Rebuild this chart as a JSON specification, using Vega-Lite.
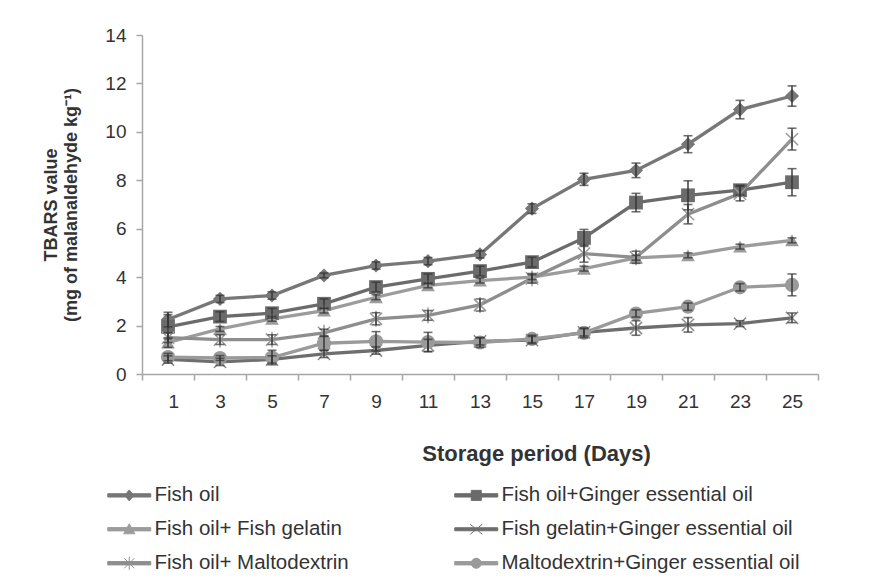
{
  "$schema": "https://vega.github.io/schema/vega-lite/v6.json",
  "width": 676,
  "height": 339,
  "autosize": "none",
  "padding": {"left": 142, "top": 35, "right": 76, "bottom": 212},
  "background": "white",
  "config": {
    "view": {"stroke": null},
    "font": "Liberation Sans",
    "axis": {
      "grid": false,
      "domainColor": "#a6a6a6",
      "tickColor": "#a6a6a6",
      "domainWidth": 1.5,
      "tickWidth": 1.5,
      "labelColor": "#333333",
      "titleColor": "#333333",
      "labelFont": "Liberation Sans",
      "titleFont": "Liberation Sans",
      "labelFontSize": 19,
      "titleFontWeight": "bold"
    },
    "legend": {"padding": 0}
  },
  "data": {
    "values": [
      {"series": "Fish oil", "day": 1, "value": 2.25, "err": 0.3},
      {"series": "Fish oil", "day": 3, "value": 3.1, "err": 0.15},
      {"series": "Fish oil", "day": 5, "value": 3.24, "err": 0.15},
      {"series": "Fish oil", "day": 7, "value": 4.07, "err": 0.1},
      {"series": "Fish oil", "day": 9, "value": 4.48, "err": 0.15},
      {"series": "Fish oil", "day": 11, "value": 4.66, "err": 0.15},
      {"series": "Fish oil", "day": 13, "value": 4.94, "err": 0.15},
      {"series": "Fish oil", "day": 15, "value": 6.83, "err": 0.2},
      {"series": "Fish oil", "day": 17, "value": 8.04, "err": 0.25},
      {"series": "Fish oil", "day": 19, "value": 8.41, "err": 0.3},
      {"series": "Fish oil", "day": 21, "value": 9.49, "err": 0.35},
      {"series": "Fish oil", "day": 23, "value": 10.92, "err": 0.38},
      {"series": "Fish oil", "day": 25, "value": 11.48, "err": 0.42},
      {"series": "Fish oil+Ginger essential oil", "day": 1, "value": 1.95, "err": 0.5},
      {"series": "Fish oil+Ginger essential oil", "day": 3, "value": 2.37, "err": 0.2},
      {"series": "Fish oil+Ginger essential oil", "day": 5, "value": 2.51, "err": 0.2},
      {"series": "Fish oil+Ginger essential oil", "day": 7, "value": 2.9, "err": 0.2},
      {"series": "Fish oil+Ginger essential oil", "day": 9, "value": 3.59, "err": 0.2},
      {"series": "Fish oil+Ginger essential oil", "day": 11, "value": 3.93, "err": 0.2},
      {"series": "Fish oil+Ginger essential oil", "day": 13, "value": 4.25, "err": 0.2},
      {"series": "Fish oil+Ginger essential oil", "day": 15, "value": 4.62, "err": 0.2},
      {"series": "Fish oil+Ginger essential oil", "day": 17, "value": 5.62, "err": 0.35},
      {"series": "Fish oil+Ginger essential oil", "day": 19, "value": 7.08, "err": 0.38},
      {"series": "Fish oil+Ginger essential oil", "day": 21, "value": 7.38, "err": 0.6},
      {"series": "Fish oil+Ginger essential oil", "day": 23, "value": 7.59, "err": 0.2},
      {"series": "Fish oil+Ginger essential oil", "day": 25, "value": 7.92, "err": 0.56},
      {"series": "Fish oil+ Fish gelatin", "day": 1, "value": 1.3, "err": 0.2},
      {"series": "Fish oil+ Fish gelatin", "day": 3, "value": 1.86, "err": 0.1},
      {"series": "Fish oil+ Fish gelatin", "day": 5, "value": 2.28, "err": 0.1},
      {"series": "Fish oil+ Fish gelatin", "day": 7, "value": 2.62, "err": 0.1},
      {"series": "Fish oil+ Fish gelatin", "day": 9, "value": 3.17, "err": 0.1},
      {"series": "Fish oil+ Fish gelatin", "day": 11, "value": 3.66, "err": 0.1},
      {"series": "Fish oil+ Fish gelatin", "day": 13, "value": 3.86, "err": 0.1},
      {"series": "Fish oil+ Fish gelatin", "day": 15, "value": 4.0, "err": 0.1},
      {"series": "Fish oil+ Fish gelatin", "day": 17, "value": 4.35, "err": 0.1},
      {"series": "Fish oil+ Fish gelatin", "day": 19, "value": 4.8, "err": 0.1},
      {"series": "Fish oil+ Fish gelatin", "day": 21, "value": 4.9, "err": 0.1},
      {"series": "Fish oil+ Fish gelatin", "day": 23, "value": 5.26, "err": 0.1},
      {"series": "Fish oil+ Fish gelatin", "day": 25, "value": 5.52, "err": 0.1},
      {"series": "Fish gelatin+Ginger essential oil", "day": 1, "value": 0.6, "err": 0.15},
      {"series": "Fish gelatin+Ginger essential oil", "day": 3, "value": 0.5, "err": 0.15},
      {"series": "Fish gelatin+Ginger essential oil", "day": 5, "value": 0.6, "err": 0.15},
      {"series": "Fish gelatin+Ginger essential oil", "day": 7, "value": 0.83, "err": 0.15},
      {"series": "Fish gelatin+Ginger essential oil", "day": 9, "value": 0.97, "err": 0.15},
      {"series": "Fish gelatin+Ginger essential oil", "day": 11, "value": 1.18, "err": 0.25},
      {"series": "Fish gelatin+Ginger essential oil", "day": 13, "value": 1.35, "err": 0.15},
      {"series": "Fish gelatin+Ginger essential oil", "day": 15, "value": 1.4, "err": 0.15},
      {"series": "Fish gelatin+Ginger essential oil", "day": 17, "value": 1.72, "err": 0.15},
      {"series": "Fish gelatin+Ginger essential oil", "day": 19, "value": 1.9, "err": 0.3},
      {"series": "Fish gelatin+Ginger essential oil", "day": 21, "value": 2.03, "err": 0.3},
      {"series": "Fish gelatin+Ginger essential oil", "day": 23, "value": 2.08, "err": 0.12},
      {"series": "Fish gelatin+Ginger essential oil", "day": 25, "value": 2.32, "err": 0.2},
      {"series": "Fish oil+ Maltodextrin", "day": 1, "value": 1.5, "err": 0.2},
      {"series": "Fish oil+ Maltodextrin", "day": 3, "value": 1.42, "err": 0.2},
      {"series": "Fish oil+ Maltodextrin", "day": 5, "value": 1.42, "err": 0.2},
      {"series": "Fish oil+ Maltodextrin", "day": 7, "value": 1.7, "err": 0.15},
      {"series": "Fish oil+ Maltodextrin", "day": 9, "value": 2.28, "err": 0.25},
      {"series": "Fish oil+ Maltodextrin", "day": 11, "value": 2.42, "err": 0.2},
      {"series": "Fish oil+ Maltodextrin", "day": 13, "value": 2.85, "err": 0.25},
      {"series": "Fish oil+ Maltodextrin", "day": 15, "value": 3.95, "err": 0.2},
      {"series": "Fish oil+ Maltodextrin", "day": 17, "value": 4.97, "err": 0.35},
      {"series": "Fish oil+ Maltodextrin", "day": 19, "value": 4.82, "err": 0.25},
      {"series": "Fish oil+ Maltodextrin", "day": 21, "value": 6.6, "err": 0.4},
      {"series": "Fish oil+ Maltodextrin", "day": 23, "value": 7.45, "err": 0.3},
      {"series": "Fish oil+ Maltodextrin", "day": 25, "value": 9.7, "err": 0.45},
      {"series": "Maltodextrin+Ginger essential oil", "day": 1, "value": 0.7, "err": 0.15},
      {"series": "Maltodextrin+Ginger essential oil", "day": 3, "value": 0.66, "err": 0.1},
      {"series": "Maltodextrin+Ginger essential oil", "day": 5, "value": 0.68, "err": 0.3},
      {"series": "Maltodextrin+Ginger essential oil", "day": 7, "value": 1.27, "err": 0.3},
      {"series": "Maltodextrin+Ginger essential oil", "day": 9, "value": 1.35, "err": 0.4},
      {"series": "Maltodextrin+Ginger essential oil", "day": 11, "value": 1.32, "err": 0.4},
      {"series": "Maltodextrin+Ginger essential oil", "day": 13, "value": 1.3, "err": 0.2},
      {"series": "Maltodextrin+Ginger essential oil", "day": 15, "value": 1.45, "err": 0.15},
      {"series": "Maltodextrin+Ginger essential oil", "day": 17, "value": 1.7, "err": 0.2},
      {"series": "Maltodextrin+Ginger essential oil", "day": 19, "value": 2.5, "err": 0.15},
      {"series": "Maltodextrin+Ginger essential oil", "day": 21, "value": 2.78, "err": 0.15},
      {"series": "Maltodextrin+Ginger essential oil", "day": 23, "value": 3.58, "err": 0.15},
      {"series": "Maltodextrin+Ginger essential oil", "day": 25, "value": 3.68, "err": 0.45}
    ]
  },
  "encoding": {
    "x": {
      "field": "day",
      "type": "quantitative",
      "scale": {"domain": [0, 26], "nice": false, "zero": false},
      "axis": {
        "values": [0, 2, 4, 6, 8, 10, 12, 14, 16, 18, 20, 22, 24, 26],
        "labelExpr": "datum.value < 26 ? '' + (datum.value + 1) : ''",
        "labelOffset": 26,
        "tickSize": 6,
        "labelPadding": 12,
        "title": "Storage period (Days)",
        "titleFontSize": 22,
        "titlePadding": 32,
        "titleX": 394
      }
    },
    "y": {
      "field": "value",
      "type": "quantitative",
      "scale": {"domain": [0, 14], "nice": false},
      "axis": {
        "values": [0, 2, 4, 6, 8, 10, 12, 14],
        "tickSize": 6,
        "labelPadding": 10,
        "title": ["TBARS value", "(mg of malanaldehyde kg⁻¹)"],
        "titleFontSize": 18,
        "titleLineHeight": 20,
        "titlePadding": 24
      }
    }
  },
  "layer": [
    {
      "mark": {"type": "line", "strokeWidth": 3.3},
      "encoding": {
        "color": {
          "field": "series",
          "type": "nominal",
          "scale": {
            "domain": ["Fish oil", "Fish oil+ Fish gelatin", "Fish oil+ Maltodextrin", "Fish oil+Ginger essential oil", "Fish gelatin+Ginger essential oil", "Maltodextrin+Ginger essential oil"],
            "range": ["#777777", "#9c9c9c", "#8e8e8e", "#6b6b6b", "#6e6e6e", "#9a9a9a"]
          },
          "legend": {
            "orient": "none",
            "legendX": -23,
            "legendY": 450,
            "columns": 2,
            "columnPadding": 103,
            "rowPadding": 13,
            "title": null,
            "labelFontSize": 20.5,
            "labelColor": "#333333",
            "labelLimit": 0,
            "labelOffset": 15,
            "symbolSize": 100,
            "symbolStrokeWidth": 1,
            "encode": {
              "symbols": {
                "update": {
                  "shape": {"signal": "datum.value == 'Fish oil' ? 'M-4.3,-0.33H4.3V0.33H-4.3Z M0,-1.1L0.9,0L0,1.1L-0.9,0Z' : datum.value == 'Fish oil+Ginger essential oil' ? 'M-4.3,-0.33H4.3V0.33H-4.3Z M-1,-1H1V1H-1Z' : datum.value == 'Fish oil+ Fish gelatin' ? 'M-4.3,-0.33H4.3V0.33H-4.3Z M0,-1.1L1.1,0.9H-1.1Z' : datum.value == 'Fish gelatin+Ginger essential oil' ? 'M-4.3,-0.3H4.3V0.3H-4.3Z M-1.2,-1L1.2,1M-1.2,1L1.2,-1' : datum.value == 'Fish oil+ Maltodextrin' ? 'M-4.3,-0.33H4.3V0.33H-4.3Z M-1,-1L1,1M-1,1L1,-1M0,-1.3V1.3' : 'M-4.3,-0.33H4.3V0.33H-4.3Z M-1,0A1,1 0 1,1 1,0A1,1 0 1,1 -1,0Z'"},
                  "fill": {"signal": "scale('color', datum.value)"},
                  "stroke": {"signal": "scale('color', datum.value)"},
                  "opacity": {"value": 1},
                  "fillOpacity": {"value": 1},
                  "strokeOpacity": {"value": 1}
                }
              }
            }
          }
        }
      }
    },
    {
      "transform": [{"filter": "datum.series == 'Fish oil'"}],
      "mark": {"type": "point", "shape": "diamond", "filled": true, "size": 200, "color": "#777777", "opacity": 1}
    },
    {
      "transform": [{"filter": "datum.series == 'Fish oil+Ginger essential oil'"}],
      "mark": {"type": "point", "shape": "square", "filled": true, "size": 190, "color": "#6b6b6b", "opacity": 1}
    },
    {
      "transform": [{"filter": "datum.series == 'Fish oil+ Fish gelatin'"}],
      "mark": {"type": "point", "shape": "triangle-up", "filled": true, "size": 190, "color": "#9c9c9c", "opacity": 1}
    },
    {
      "transform": [{"filter": "datum.series == 'Fish oil+ Maltodextrin'"}],
      "mark": {"type": "point", "shape": "M-1,-1L1,1M-1,1L1,-1M0,-1.3V1.3", "filled": false, "size": 150, "color": "#9a9a9a", "strokeWidth": 1.5, "opacity": 1}
    },
    {
      "transform": [{"filter": "datum.series == 'Fish gelatin+Ginger essential oil'"}],
      "mark": {"type": "point", "shape": "M-1,-1L1,1M-1,1L1,-1", "filled": false, "size": 150, "color": "#8a8a8a", "strokeWidth": 1.5, "opacity": 1}
    },
    {
      "transform": [{"filter": "datum.series == 'Maltodextrin+Ginger essential oil'"}],
      "mark": {"type": "point", "shape": "circle", "filled": true, "size": 200, "color": "#9a9a9a", "opacity": 1}
    },
    {
      "mark": {
        "type": "errorbar",
        "ticks": {"size": 9, "thickness": 1.6, "color": "#333333"},
        "rule": {"strokeWidth": 1.4, "color": "#333333"}
      },
      "encoding": {
        "yError": {"field": "err"}
      }
    }
  ]
}
